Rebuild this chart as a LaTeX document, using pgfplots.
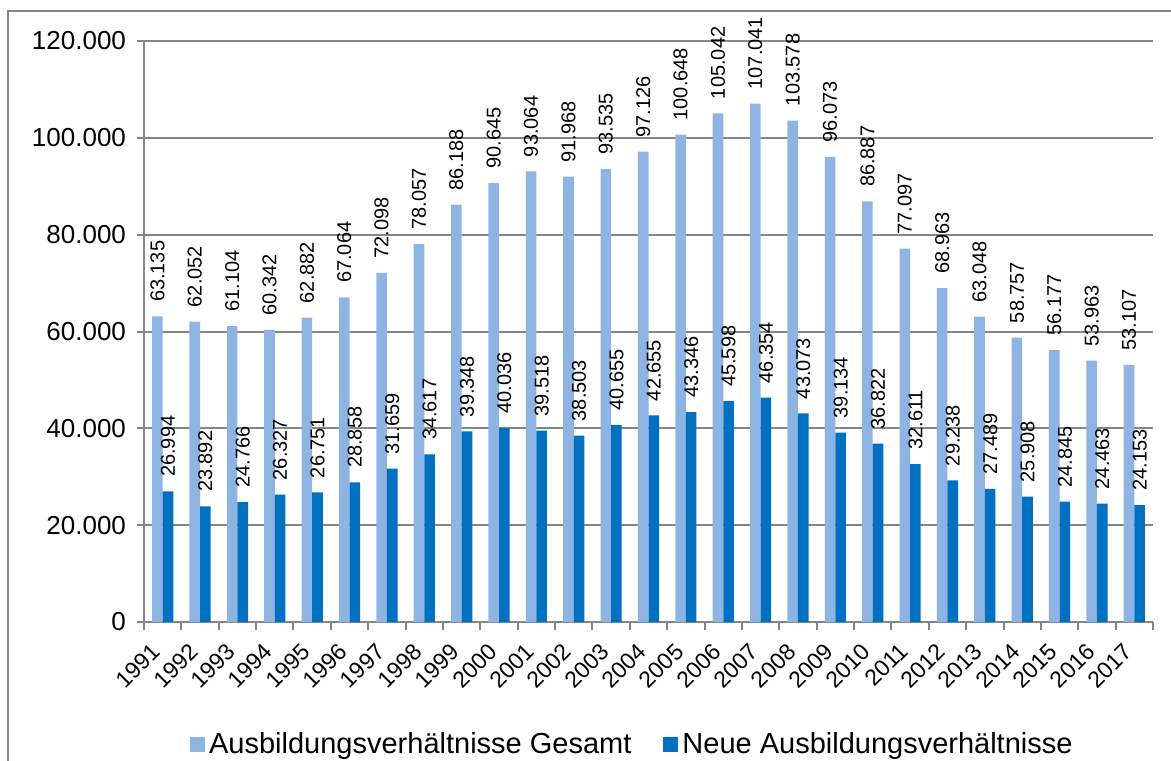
\documentclass[border=0pt]{standalone}
\usepackage{fontspec}
\setmainfont{Liberation Sans}
\usepackage{pgfplots}
\pgfplotsset{compat=1.18}
\definecolor{light}{HTML}{8EB4E3}
\definecolor{dark}{HTML}{0070C0}
\definecolor{gridgray}{HTML}{868686}
\begin{document}
\begin{tikzpicture}
\useasboundingbox (0,0) rectangle (585.5pt,380pt);
\draw[gridgray, line width=1pt] (4pt,-20pt) rectangle (620pt,374.5pt);
\begin{axis}[
  at={(72pt,69pt)}, anchor=south west,
  scale only axis, width=504.5pt, height=290.5pt,
  ybar=0pt, bar width=5.3pt,
  xmin=-0.5, xmax=26.5, ymin=0, ymax=120000,
  axis x line*=bottom, axis y line*=left,
  axis line style={-, gridgray, line width=1pt},
  ytick={0,20000,40000,60000,80000,100000,120000},
  ymajorgrids, grid style={gridgray, line width=1pt},
  scaled y ticks=false,
  tick align=outside, major tick length=3.5pt, minor tick length=4pt,
  tick style={gridgray, line width=1pt},
  xtick={0,...,26},
  xticklabels={1991,1992,1993,1994,1995,1996,1997,1998,1999,2000,2001,2002,2003,2004,2005,2006,2007,2008,2009,2010,2011,2012,2013,2014,2015,2016,2017},
  major x tick style=transparent,
  minor xtick={-0.5,0.5,...,26.5},
  yticklabel style={font=\fontsize{13}{15}\selectfont, xshift=-2pt},
  xticklabel style={font=\fontsize{11.5}{13}\selectfont, rotate=45, anchor=east, xshift=-1pt},
  xticklabel shift=6pt,
  nodes near coords,
  nodes near coords style={font=\fontsize{10}{12}\selectfont, rotate=90, anchor=west, text=black, inner xsep=7pt},
  clip=false,
  legend style={at={(0.485,-0.21)}, anchor=center, draw=none,
    font=\fontsize{14.5}{17}\selectfont, legend columns=-1,
    /tikz/every even column/.append style={column sep=14pt}},
  legend image code/.code={\draw[#1,draw=none] (0pt,-3.75pt) rectangle (7.5pt,3.75pt);},
  /pgf/number format/fixed, /pgf/number format/precision=0,
  /pgf/number format/1000 sep={.}, /pgf/number format/assume math mode=true,
]
\addplot[fill=light, draw=none] coordinates {
(0,63135) (1,62052) (2,61104) (3,60342) (4,62882) (5,67064) (6,72098) (7,78057) (8,86188) (9,90645)
(10,93064) (11,91968) (12,93535) (13,97126) (14,100648) (15,105042) (16,107041) (17,103578) (18,96073)
(19,86887) (20,77097) (21,68963) (22,63048) (23,58757) (24,56177) (25,53963) (26,53107)};
\addlegendentry{Ausbildungsverhältnisse Gesamt}
\addplot[fill=dark, draw=none] coordinates {
(0,26994) (1,23892) (2,24766) (3,26327) (4,26751) (5,28858) (6,31659) (7,34617) (8,39348) (9,40036)
(10,39518) (11,38503) (12,40655) (13,42655) (14,43346) (15,45598) (16,46354) (17,43073) (18,39134)
(19,36822) (20,32611) (21,29238) (22,27489) (23,25908) (24,24845) (25,24463) (26,24153)};
\addlegendentry{Neue Ausbildungsverhältnisse}
\end{axis}
\end{tikzpicture}
\end{document}
